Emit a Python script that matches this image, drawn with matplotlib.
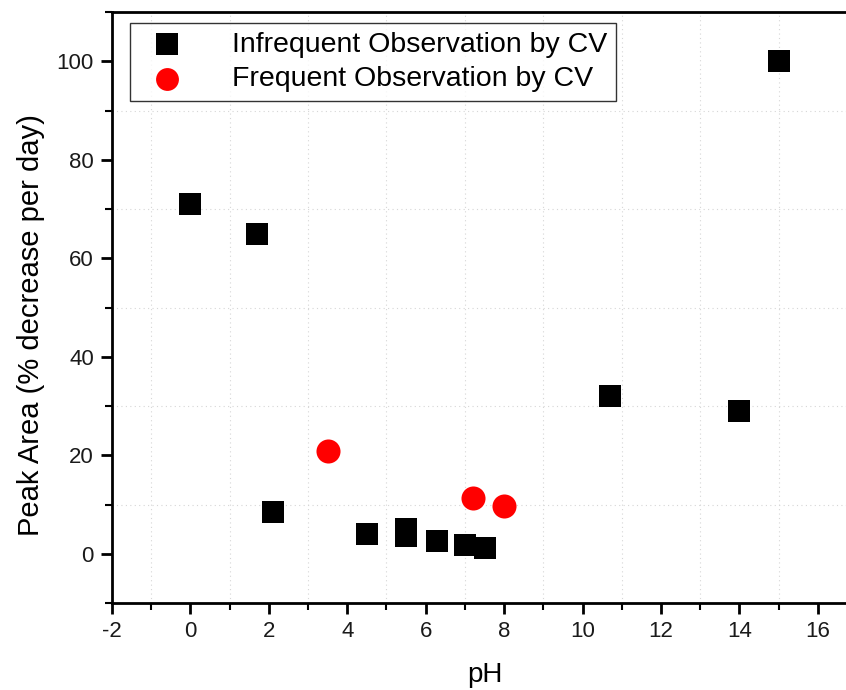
import matplotlib.pyplot as plt
from matplotlib.ticker import MultipleLocator

plt.rcParams["font.family"] = ["Liberation Sans", "DejaVu Sans"]
plt.rcParams["axes.unicode_minus"] = False

# pH vs peak area decay, two observation groups
ph_infrequent = [0.0, 1.7, 2.1, 4.5, 5.5, 5.5, 6.3, 7.0, 7.5, 10.7, 14.0, 15.0]
area_infrequent = [71.0, 65.0, 8.5, 4.1, 5.0, 3.7, 2.5, 1.7, 1.1, 32.0, 29.0, 100.0]

ph_frequent = [3.5, 7.2, 8.0]
area_frequent = [20.8, 11.3, 9.7]

fig = plt.figure(figsize=(8.46, 6.90), dpi=100)
# axes run past the right edge of the figure on purpose
ax = fig.add_axes([0.1324, 0.126, 0.8806, 0.8565])

ax.scatter(ph_infrequent, area_infrequent, marker="s", s=260, color="black",
           linewidths=0, label="Infrequent Observation by CV", zorder=3)
ax.scatter(ph_frequent, area_frequent, marker="o", s=300, color="#ff0000",
           linewidths=0, label="Frequent Observation by CV", zorder=3)

ax.set_xlim(-2, 17)
ax.set_ylim(-10, 110)

ax.xaxis.set_major_locator(MultipleLocator(2))
ax.xaxis.set_minor_locator(MultipleLocator(1))
ax.yaxis.set_major_locator(MultipleLocator(20))
ax.yaxis.set_minor_locator(MultipleLocator(10))

# dotted grid on minor positions only
ax.grid(True, which="minor", linestyle=(0, (1, 3)), color="#d6d6d6", linewidth=0.8)
ax.grid(False, which="major")

ax.tick_params(which="major", direction="out", length=8, width=2, labelsize=16,
               colors="black", pad=5)
ax.tick_params(which="minor", direction="out", length=5, width=1.5)
ax.tick_params(axis="both", labelcolor="#1a1a1a")

for side in ax.spines.values():
    side.set_linewidth(2)

ax.set_xlabel("pH", fontsize=20, labelpad=14)
ax.set_ylabel("Peak Area (% decrease per day)", fontsize=21)
ax.yaxis.set_label_coords(-0.09, 0.47)

leg = ax.legend(loc="upper left", bbox_to_anchor=(0.024, 0.981), fontsize=20.5,
                frameon=True, fancybox=False, edgecolor="black",
                borderaxespad=0, handletextpad=1.3, borderpad=0.3,
                labelspacing=0.3, markerscale=0.95, handlelength=2.0)
leg.get_frame().set_linewidth(1.0)

fig.savefig("out.png", dpi=100)
